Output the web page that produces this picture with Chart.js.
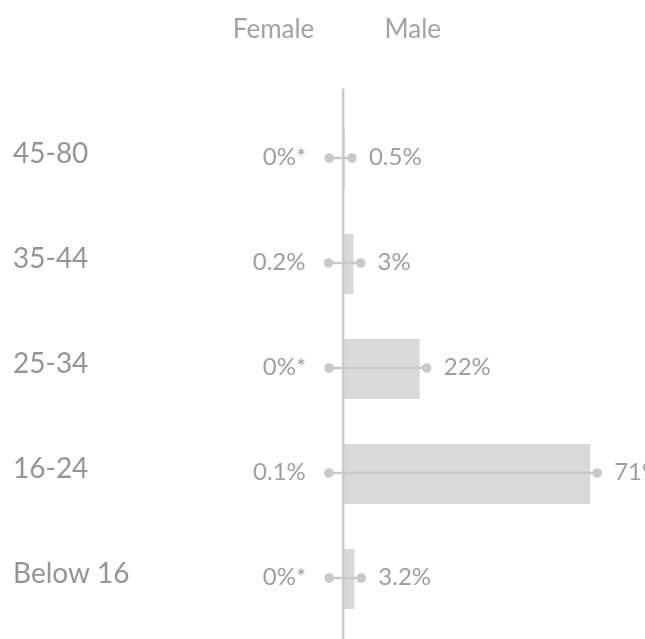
<!DOCTYPE html>
<html>
<head>
<meta charset="utf-8">
<script src="https://cdn.jsdelivr.net/npm/chart.js@4/dist/chart.umd.min.js"></script>
<style>
  body { margin: 0; background: #fff; }
  #wrap { width: 645px; height: 639px; }
</style>
</head>
<body>
<div id="wrap"><canvas id="ageChart"></canvas></div>
<script>
const ageGroups = ['45-80', '35-44', '25-34', '16-24', 'Below 16'];
const femaleShare = [0, 0.2, 0, 0.1, 0];
const maleShare = [0.5, 3, 22, 71, 3.2];
const sideTitles = ['Female', 'Male'];

function pctText(v) {
  return v === 0 ? '0%*' : v + '%';
}

// zero line, dumbbells, value labels and the Female / Male headers
const overlay = {
  id: 'overlay',
  afterDatasetsDraw(chart) {
    const ctx = chart.ctx;
    const xs = chart.scales.x, ys = chart.scales.y;
    const zero = xs.getPixelForValue(0);

    ctx.save();
    ctx.strokeStyle = '#c9c9c9';
    ctx.lineWidth = 2.5;
    ctx.beginPath();
    ctx.moveTo(zero, chart.chartArea.top - 18);
    ctx.lineTo(zero, chart.height);
    ctx.stroke();

    ctx.font = '24px Lato';
    ageGroups.forEach(function(g, i) {
      const y = ys.getPixelForValue(i) - 1;
      const xf = xs.getPixelForValue(-femaleShare[i]) - 14;
      const xm = xs.getPixelForValue(maleShare[i]) + 7;

      ctx.strokeStyle = '#c9c9c9';
      ctx.lineWidth = 2.5;
      ctx.beginPath();
      ctx.moveTo(xf, y);
      ctx.lineTo(xm, y);
      ctx.stroke();

      ctx.fillStyle = '#c9c9c9';
      [xf, xm].forEach(function(x) {
        ctx.beginPath();
        ctx.arc(x, y, 4.8, 0, Math.PI * 2);
        ctx.fill();
      });

      ctx.fillStyle = '#9f9f9f';
      ctx.textBaseline = 'alphabetic';
      ctx.textAlign = 'right';
      ctx.fillText(pctText(femaleShare[i]), xf - 23, y + 7);
      ctx.textAlign = 'left';
      ctx.fillText(pctText(maleShare[i]), xm + 17, y + 7);
    });

    ctx.font = '26px Lato';
    ctx.fillStyle = '#a3a3a3';
    ctx.textAlign = 'center';
    ctx.fillText(sideTitles[0], xs.getPixelForValue(-20), 38);
    ctx.fillText(sideTitles[1], xs.getPixelForValue(20), 38);
    ctx.restore();
  }
};

new Chart(document.getElementById('ageChart'), {
  type: 'bar',
  data: {
    labels: ageGroups,
    datasets: [
      {
        label: sideTitles[0],
        data: femaleShare.map(v => -v),
        backgroundColor: '#ededed',
        barPercentage: 0.57,
        categoryPercentage: 1
      },
      {
        label: sideTitles[1],
        data: maleShare,
        backgroundColor: '#d9d9d9',
        barPercentage: 0.57,
        categoryPercentage: 1
      }
    ]
  },
  options: {
    indexAxis: 'y',
    responsive: true,
    maintainAspectRatio: false,
    animation: false,
    layout: { padding: { left: 13, right: 23.5, top: 106.5, bottom: 7.5 } },
    plugins: { legend: { display: false }, tooltip: { enabled: false } },
    scales: {
      x: {
        stacked: true,
        min: -40,
        max: 80,
        display: false
      },
      y: {
        stacked: true,
        grid: { display: false },
        border: { display: false },
        ticks: {
          crossAlign: 'far',
          padding: 0,
          labelOffset: -5,
          color: '#959595',
          font: { family: 'Lato', size: 28 }
        },
        afterFit(scale) {
          scale.width = 191;
          scale.paddingTop = 0;
          scale.paddingBottom = 0;
        }
      }
    }
  },
  plugins: [overlay]
});
</script>
</body>
</html>
